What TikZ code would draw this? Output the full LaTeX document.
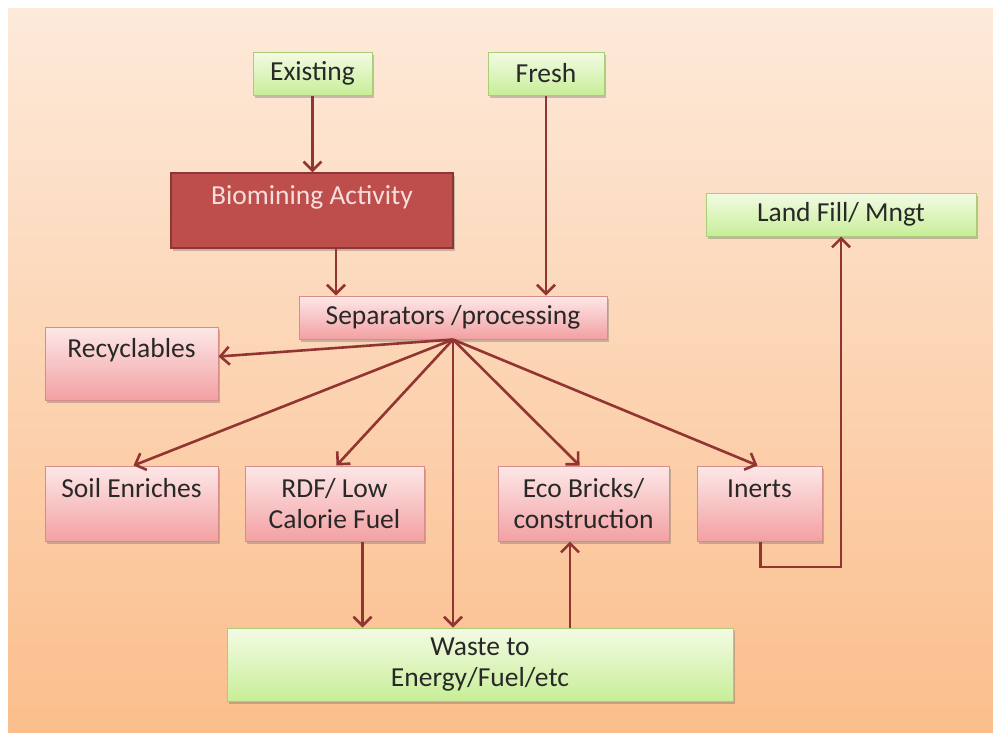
\documentclass[tikz,border=0pt]{standalone}
\usepackage{fontspec}
\setmainfont{Carlito}
\usetikzlibrary{arrows.meta,shadows}
\definecolor{bgtop}{RGB}{253,234,218}
\definecolor{bgbot}{RGB}{251,190,140}
\definecolor{pinktop}{RGB}{253,232,232}
\definecolor{pinkbot}{RGB}{243,160,162}
\definecolor{pinkline}{RGB}{214,140,138}
\definecolor{greentop}{RGB}{243,251,228}
\definecolor{greenbot}{RGB}{200,238,152}
\definecolor{greenline}{RGB}{170,205,120}
\definecolor{biofill}{RGB}{190,78,76}
\definecolor{bioline}{RGB}{140,55,52}
\definecolor{biotext}{RGB}{246,222,220}
\definecolor{arrowc}{RGB}{145,52,50}
\definecolor{txt}{RGB}{40,40,40}
\tikzset{
  boxbase/.style={rectangle, inner sep=0pt, align=center, text=txt,
    font=\fontsize{27.5}{31}\selectfont,
    drop shadow={shadow xshift=1.5pt, shadow yshift=-2.5pt, opacity=0.35, fill=black!60}},
  pinkbox/.style={boxbase, draw=pinkline, line width=1pt, top color=pinktop, bottom color=pinkbot},
  greenbox/.style={boxbase, draw=greenline, line width=1pt, top color=greentop, bottom color=greenbot},
  biobox/.style={boxbase, draw=bioline, line width=1.2pt, fill=biofill, text=biotext},
  arr/.style={draw=arrowc, line width=2.6pt, -{Straight Barb[length=9pt,width=18pt,line width=2.6pt]}},
  conn/.style={draw=arrowc, line width=2.6pt}
}
\begin{document}
\begin{tikzpicture}[x=1pt,y=-1pt]
\useasboundingbox (0,0) rectangle (993,732);
\fill[white] (0,0) rectangle (993,732);
\fill[top color=bgtop, bottom color=bgbot] (8,8) rectangle (993,732);

\node[greenbox, minimum width=119pt, minimum height=43pt] (exist) at (312.5,73.5) {Existing};
\node[greenbox, minimum width=116pt, minimum height=43pt] (fresh) at (546,73.5) {Fresh};
\node[biobox, minimum width=282pt, minimum height=75pt] (bio) at (312,210.5) {Biomining Activity\\[-10pt]\strut};
\node[pinkbox, minimum width=308pt, minimum height=43pt] (sep) at (453,317.5) {Separators /processing};
\node[pinkbox, minimum width=173pt, minimum height=73pt] (rec) at (131.5,363.5) {Recyclables\\[-10pt]\strut};
\node[pinkbox, minimum width=173pt, minimum height=75pt] (soil) at (131.5,503.5) {Soil Enriches\\[-10pt]\strut};
\node[pinkbox, minimum width=179pt, minimum height=75pt] (rdf) at (334.5,503.5) {RDF/ Low\\Calorie Fuel};
\node[pinkbox, minimum width=171pt, minimum height=75pt] (eco) at (583.5,503.5) {Eco Bricks/\\construction};
\node[pinkbox, minimum width=125pt, minimum height=75pt] (inert) at (759.5,503.5) {Inerts\\[-10pt]\strut};
\node[greenbox, minimum width=270pt, minimum height=43pt] (land) at (841,214.5) {Land Fill/ Mngt};
\node[greenbox, minimum width=506pt, minimum height=73pt] (waste) at (480,664.5) {Waste to\\Energy/Fuel/etc};

\coordinate (bend) at (0,567);

\draw[arr] (exist.south) -- (exist.south |- bio.north);
\draw[arr] (fresh.south) -- (fresh.south |- sep.north);
\draw[arr] ([xshift=24pt]bio.south) -- ([xshift=24pt]bio.south |- sep.north);
\draw[arr] (sep.south) -- ([yshift=7pt]rec.east);
\draw[arr] (sep.south) -- ([xshift=2pt]soil.north);
\draw[arr] (sep.south) -- ([xshift=2pt]rdf.north);
\draw[arr] (sep.south) -- (sep.south |- waste.north);
\draw[arr] (sep.south) -- ([xshift=-4pt]eco.north);
\draw[arr] (sep.south) -- ([xshift=-2pt]inert.north);
\draw[arr] ([xshift=28pt]rdf.south) -- ([xshift=28pt]rdf.south |- waste.north);
\draw[arr] ([xshift=-13.5pt]eco.south |- waste.north) -- ([xshift=-13.5pt]eco.south);
\draw[arr] ([xshift=1pt]inert.south) -- ([xshift=1pt]inert.south |- bend) -- (land.south |- bend) -- (land.south);
\end{tikzpicture}
\end{document}
